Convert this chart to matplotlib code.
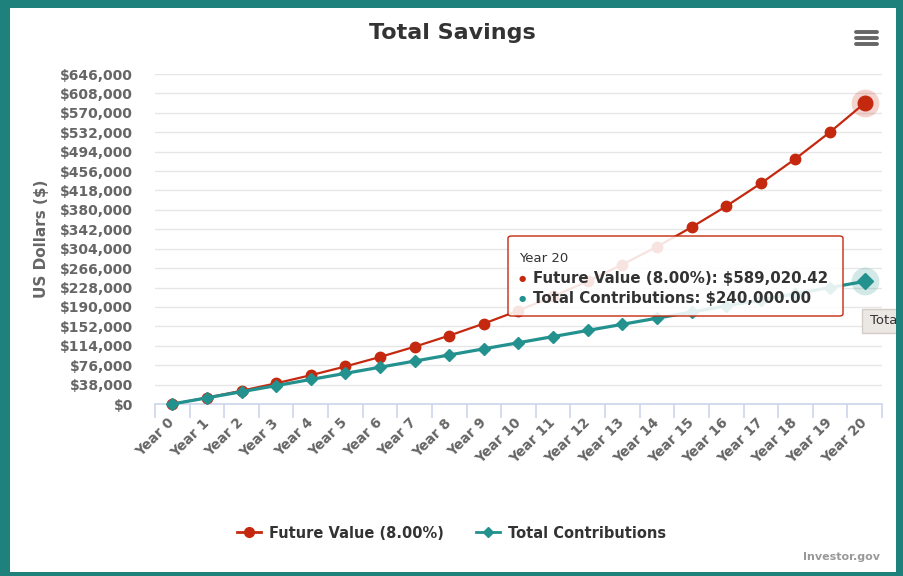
import matplotlib
matplotlib.use("Agg")
import matplotlib.pyplot as plt
from matplotlib.patches import Rectangle, FancyBboxPatch
from matplotlib.lines import Line2D
from matplotlib.ticker import FuncFormatter, MultipleLocator
import numpy as np

years = ["Year %d" % i for i in range(21)]
future_value = [0, 12450, 25933, 40536, 56350, 73477, 92025, 112113, 133869, 157430,
                182946, 210580, 240508, 272920, 308022, 346038, 387209, 431797,
                480086, 532383, 589020]
contributions = [0, 12000, 24000, 36000, 48000, 60000, 72000, 84000, 96000, 108000,
                 120000, 132000, 144000, 156000, 168000, 180000, 192000, 204000,
                 216000, 228000, 240000]

RED = "#c4290f"
TEAL = "#23918e"
BORDER = "#1f817b"
GREY = "#666666"
W, H = 904, 576

plt.rcParams['font.family'] = ['DejaVu Sans']
fig = plt.figure(figsize=(W / 100, H / 100), dpi=100, facecolor=BORDER)
fig.add_artist(Rectangle((10 / W, 1 - 572 / H), 886 / W, 564 / H, transform=fig.transFigure,
                         facecolor="white", edgecolor="none", zorder=-5))

ax = fig.add_axes([155 / W, 1 - 404 / H, 727 / W, 330 / H])
x = np.arange(len(years))
ax.plot(x, future_value, color=RED, lw=1.6, marker="o", ms=7.5, zorder=3, clip_on=False)
ax.plot(x, contributions, color=TEAL, lw=2.3, marker="D", ms=6, zorder=4, clip_on=False)

# hover state on the last point
ax.plot(x[-1], future_value[-1], marker="o", ms=20, color=RED, alpha=0.2, mec="none", zorder=3, clip_on=False)
ax.plot(x[-1], future_value[-1], marker="o", ms=10.5, color=RED, zorder=3, clip_on=False)
ax.plot(x[-1], contributions[-1], marker="o", ms=20, color=TEAL, alpha=0.2, mec="none", zorder=4, clip_on=False)
ax.plot(x[-1], contributions[-1], marker="D", ms=8, color=TEAL, zorder=4, clip_on=False)

ax.set_xlim(-0.5, 20.5)
ax.set_ylim(0, 646000)
ax.yaxis.set_major_locator(MultipleLocator(38000))
ax.yaxis.set_major_formatter(FuncFormatter(lambda v, p: "${:,.0f}".format(v)))
ax.grid(axis="y", color="#e6e6e6", lw=1)
ax.set_axisbelow(True)
for s in ["top", "right", "left"]:
    ax.spines[s].set_visible(False)
ax.spines["bottom"].set_color("#ccd6eb")
ax.spines["bottom"].set_linewidth(1.2)
ax.tick_params(axis="y", length=0, pad=16, labelsize=10, labelcolor=GREY)
for lab in ax.get_yticklabels():
    lab.set_fontweight("bold")

ax.set_xticks(x)
ax.set_xticklabels(years, rotation=45, ha="right", va="center", rotation_mode="anchor",
                   fontsize=9.8, color=GREY, fontweight="bold")
ax.tick_params(axis="x", which="major", length=0, pad=12)
ax.set_xticks(np.arange(-0.5, 21, 1), minor=True)
ax.tick_params(axis="x", which="minor", length=10, color="#ccd6eb", width=1.2, direction="out")

ax.set_ylabel("US Dollars ($)", fontsize=11, color=GREY, fontweight="bold", labelpad=8)

fig.text(0.5, 1 - 33 / H, "Total Savings", ha="center", va="center", fontsize=16,
         fontweight="bold", color="#333333")

# menu icon
for yy in [32, 38, 44]:
    fig.add_artist(Line2D([856 / W, 877 / W], [1 - yy / H, 1 - yy / H], transform=fig.transFigure,
                          color=GREY, lw=2.8, solid_capstyle="round"))

# tooltip
fig.add_artist(FancyBboxPatch((508 / W, 1 - 316 / H), 335 / W, 80 / H, transform=fig.transFigure,
                              boxstyle="round,pad=0,rounding_size=0.004", facecolor="white",
                              alpha=0.88, edgecolor="none", zorder=5))
fig.add_artist(FancyBboxPatch((508 / W, 1 - 316 / H), 335 / W, 80 / H, transform=fig.transFigure,
                              boxstyle="round,pad=0,rounding_size=0.004", facecolor="none",
                              edgecolor=RED, lw=1, zorder=6))
fig.text(519 / W, 1 - 258 / H, "Year 20", fontsize=9.5, color="#333333", va="center", zorder=7)
fig.text(519 / W, 1 - 278 / H, "\u25cf", fontsize=6, color=RED, va="center", zorder=7)
fig.text(533 / W, 1 - 278 / H, "Future Value (8.00%): $589,020.42", fontsize=10.8,
         fontweight="bold", color="#333333", va="center", zorder=7)
fig.text(519 / W, 1 - 298 / H, "\u25cf", fontsize=6, color=TEAL, va="center", zorder=7)
fig.text(533 / W, 1 - 298 / H, "Total Contributions: $240,000.00", fontsize=10.8,
         fontweight="bold", color="#333333", va="center", zorder=7)

# second tooltip, cut off by the border
fig.add_artist(Rectangle((862 / W, 1 - 333 / H), 40 / W, 24 / H, transform=fig.transFigure,
                         facecolor="#ebe7e3", edgecolor="#d2cdc8", lw=1, zorder=6))
fig.text(870 / W, 1 - 321 / H, "Tota", fontsize=9.5, color="#333333", va="center", zorder=7)
fig.add_artist(Rectangle((896 / W, 0), 8 / W, 1, transform=fig.transFigure,
                         facecolor=BORDER, edgecolor="none", zorder=20))

# legend
handles = [Line2D([], [], color=RED, lw=2, marker="o", ms=7),
           Line2D([], [], color=TEAL, lw=2, marker="D", ms=5.5)]
leg = fig.legend(handles, ["Future Value (8.00%)", "Total Contributions"], loc="center",
                 bbox_to_anchor=(0.5, 1 - 533 / H), ncol=2, frameon=False, fontsize=10.5,
                 handlelength=1.6, columnspacing=2.2, handletextpad=0.6)
for t in leg.get_texts():
    t.set_fontweight("bold")
    t.set_color("#333333")

fig.text(880 / W, 1 - 557 / H, "Investor.gov", ha="right", va="center", fontsize=8,
         color="#999999", fontweight="bold")

fig.savefig("out.png", dpi=100, facecolor=fig.get_facecolor())
